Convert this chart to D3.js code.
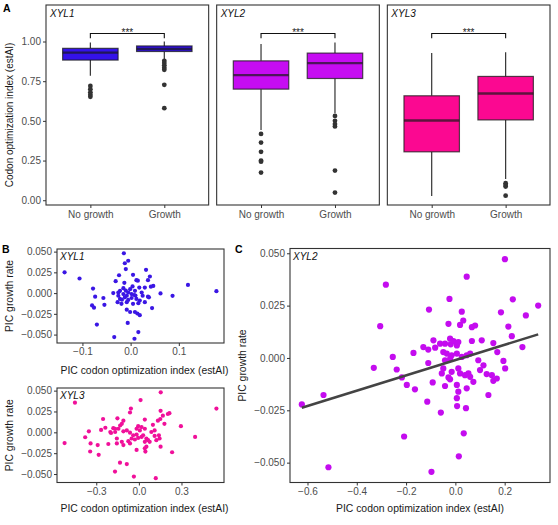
<!DOCTYPE html>
<html>
<head>
<meta charset="utf-8">
<script src="https://cdn.jsdelivr.net/npm/d3@7"></script>
<style>
  body { margin: 0; background: #fff; }
  text { font-family: "Liberation Sans", Arial, sans-serif; }
</style>
</head>
<body>
<div id="container"></div>
<script>
// ---- data ----
let groups = ["No growth", "Growth"];
let genes = ["XYL1", "XYL2", "XYL3"];
let geneColors = ["#3412ea", "#c60cf2", "#fb0891"];

// box summaries: lo whisker, q1, median, q3, hi whisker, outliers
let xyl1Box = [
  { lo: 0.785, q1: 0.883, med: 0.93, q3: 0.957, hi: 0.994, out: [0.72, 0.70, 0.68, 0.665, 0.652] },
  { lo: 0.889, q1: 0.937, med: 0.953, q3: 0.972, hi: 1.0, out: [0.878, 0.865, 0.85, 0.835, 0.822, 0.727, 0.58] }
];
let xyl2Box = [
  { lo: 0.443, q1: 0.70, med: 0.788, q3: 0.878, hi: 0.984, out: [0.418, 0.363, 0.305, 0.25, 0.243, 0.174] },
  { lo: 0.548, q1: 0.767, med: 0.864, q3: 0.927, hi: 0.994, out: [0.531, 0.5, 0.48, 0.465, 0.187, 0.048] }
];
let xyl3Box = [
  { lo: 0.027, q1: 0.305, med: 0.502, q3: 0.658, hi: 0.927, out: [] },
  { lo: 0.134, q1: 0.506, med: 0.672, q3: 0.78, hi: 0.933, out: [0.107, 0.096, 0.086, 0.029] }
];
let boxTicks = [0, 0.25, 0.5, 0.75, 1];

// phylogenetic independent contrasts [estAI, growth rate]
let xyl1Pic = [
  [-0.137, 0.025], [-0.106, 0.0176], [-0.078, 0.0055], [-0.080, -0.0148], [-0.076, -0.0176],
  [-0.070, -0.038], [-0.034, -0.053], [-0.014, 0.048], [-0.005, 0.039], [-0.012, 0.036],
  [-0.010, 0.029], [-0.024, 0.0215], [0.005, 0.022], [0.032, 0.028], [0.040, 0.020],
  [0.036, 0.0156], [0.012, 0.0156], [0.015, 0.015], [-0.031, 0.0144], [-0.013, 0.0124],
  [0.047, 0.0086], [0.042, 0.0077], [0.0295, 0.0066], [0.018, 0.0066], [0.009, 0.0027],
  [-0.001, 0.0047], [-0.015, 0.0059], [-0.022, 0.0027], [-0.036, 0.0], [-0.005, 0.0007],
  [0.023, 0.0007], [0.062, -0.0004], [0.087, -0.0033], [0.036, -0.0043], [-0.0255, -0.0032],
  [-0.022, -0.007], [-0.027, -0.011], [-0.019, -0.0129], [-0.012, -0.0051], [-0.005, -0.0082],
  [0.002, -0.0059], [0.012, -0.007], [0.019, -0.009], [0.016, -0.0122], [0.005, -0.0129],
  [-0.008, -0.011], [0.025, -0.0032], [0.0295, -0.011], [0.038, -0.0051], [0.0445, -0.018],
  [-0.0565, -0.0059], [-0.0544, -0.0141], [-0.0736, -0.0043], [-0.008, -0.02], [-0.001, -0.0228],
  [0.009, -0.0228], [0.014, -0.0246], [0.019, -0.0266], [-0.0255, 0.0007], [-0.015, -0.0012],
  [-0.008, -0.0032], [0.002, -0.0012], [0.0074, -0.0023], [0.119, 0.0098], [0.178, 0.0023],
  [-0.006, -0.036], [0.016, -0.047], [0.008, -0.055], [-0.010, 0.003], [0.004, 0.008],
  [-0.018, -0.008], [0.010, -0.003]
];
let xyl3Pic = [
  [-0.523, -0.0129], [-0.45, 0.0355], [-0.378, -0.0059], [-0.352, 0.0012], [-0.34, -0.0133],
  [-0.343, -0.023], [-0.29, -0.0153], [-0.283, -0.027], [-0.266, 0.0029], [-0.252, 0.016],
  [-0.236, 0.0055], [-0.215, -0.014], [-0.196, -0.0008], [-0.201, 0.0004], [-0.180, 0.005],
  [-0.168, -0.047], [-0.167, 0.0043], [-0.167, 0.0004], [-0.151, 0.0168], [-0.144, 0.0043],
  [-0.132, 0.0082], [-0.12, 0.0102], [-0.109, 0.014], [-0.133, -0.0364], [-0.085, -0.038],
  [-0.109, 0.0012], [-0.085, 0.0023], [-0.0625, -0.0004], [-0.056, 0.0285], [-0.0625, 0.0238],
  [-0.035, -0.053], [0.012, 0.0387], [-0.040, -0.0035], [-0.016, -0.0027], [-0.051, -0.0074],
  [-0.028, -0.0086], [-0.005, -0.0067], [0.019, -0.0055], [0.030, -0.0035], [0.053, -0.0074],
  [0.042, -0.0114], [0.065, -0.0094], [0.053, -0.0172], [0.076, -0.0114], [0.111, -0.0043],
  [0.141, -0.0035], [0.123, -0.0094], [0.146, -0.0074], [0.153, -0.0172], [-0.155, -0.0074],
  [-0.155, -0.0133], [-0.12, -0.0114], [-0.109, -0.0153], [-0.074, -0.0106], [-0.0625, -0.0133],
  [-0.016, -0.0211], [0.042, -0.0192], [0.046, -0.0231], [0.234, -0.0239], [-0.005, 0.0074],
  [0.019, 0.0063], [0.042, 0.0043], [0.007, 0.0023], [-0.016, 0.0043], [0.099, 0.009],
  [0.111, 0.0023], [0.088, 0.0004], [0.042, 0.0153], [0.18, 0.0102], [0.296, 0.0074],
  [0.396, -0.0055], [0.153, 0.0258], [0.215, 0.023], [0.204, 0.022], [0.169, 0.020],
  [0.151, 0.016], [0.134, 0.014], [0.154, 0.048], [0.119, -0.055], [0.546, 0.0285]
];
let xyl2Pic = [
  [-0.623, -0.0222], [-0.535, -0.0177], [-0.515, -0.0522], [-0.282, 0.035], [-0.305, 0.0152],
  [-0.331, -0.0047], [-0.254, 0.0005], [-0.238, -0.0055], [-0.217, -0.0093], [-0.208, -0.0375],
  [-0.197, -0.0129], [-0.17, 0.0024], [-0.164, -0.015], [-0.13, 0.0052], [-0.11, 0.004],
  [-0.11, -0.0024], [-0.114, -0.0209], [-0.107, 0.0231], [-0.097, -0.0544], [-0.092, -0.0117],
  [-0.089, 0.0084], [-0.082, 0.0049], [-0.062, 0.0068], [-0.059, -0.0261], [-0.055, -0.0074],
  [-0.049, 0.0028], [-0.049, -0.005], [-0.042, 0.0068], [-0.042, -0.0011], [-0.042, -0.0134],
  [-0.035, 0.0021], [-0.028, 0.0163], [-0.028, -0.0093], [-0.024, 0.0282], [-0.0215, 0.0092],
  [-0.0215, -0.0102], [-0.021, -0.0003], [-0.019, 0.0065], [-0.015, 0.0013], [-0.015, -0.0066],
  [-0.008, 0.0081], [0.006, 0.006], [0.006, 0.0021], [0.006, -0.0129], [0.012, 0.0076],
  [0.012, -0.005], [0.012, -0.0161], [0.006, -0.0192], [0.007, -0.023], [0.014, -0.047],
  [0.019, 0.0158], [0.019, -0.0074], [0.026, 0.0221], [0.026, 0.0005], [0.032, 0.0179],
  [0.034, -0.036], [0.039, -0.0082], [0.043, -0.024], [0.046, 0.0388], [0.046, 0.0013],
  [0.046, -0.0145], [0.053, -0.0074], [0.06, 0.0021], [0.06, -0.009], [0.067, 0.0147],
  [0.067, 0.0081], [0.073, -0.0114], [0.08, 0.0155], [0.093, -0.0011], [0.1, -0.0058],
  [0.107, 0.0084], [0.114, -0.0035], [0.127, -0.0077], [0.134, -0.0177], [0.148, -0.0082],
  [0.154, 0.0071], [0.154, -0.0109], [0.168, -0.0098], [0.17, 0.0028], [0.185, 0.0218],
  [0.195, -0.0014], [0.201, 0.0472], [0.202, -0.005], [0.215, 0.015], [0.229, 0.0104],
  [0.233, 0.028], [0.272, 0.0052], [0.286, 0.0203], [0.336, 0.025]
];
// lm fit in panel C: intercept, slope
let xyl2Fit = [-0.0010, 0.0365];
let picYTicks = [-0.05, -0.025, 0, 0.025, 0.05];

// ---- drawing ----
let ink = "#333333";
let tickInk = "#4d4d4d";
let fontFam = "Liberation Sans, Arial, sans-serif";

let svg = d3.select("#container").append("svg").attr("width", 558).attr("height", 525);
svg.append("rect").attr("width", 558).attr("height", 525).attr("fill", "#fff");

let styleAxis = (g) => {
  g.attr("font-family", fontFam);
  g.select(".domain").remove();
  g.selectAll(".tick line").attr("stroke", ink).attr("stroke-width", 1);
  g.selectAll(".tick text").attr("fill", tickInk).style("font-size", "10px");
};

let frame = (x0, y0, x1, y1) => {
  svg.append("rect")
    .attr("x", x0).attr("y", y0)
    .attr("width", x1 - x0).attr("height", y1 - y0)
    .attr("fill", "none").attr("stroke", ink).attr("stroke-width", 1.1);
};

let title = (txt, x, y, rot, opts = {}) => {
  svg.append("text")
    .attr("transform", `translate(${x},${y}) rotate(${rot})`)
    .attr("text-anchor", opts.anchor || "middle")
    .attr("fill", opts.fill || "#1a1a1a")
    .style("font-size", (opts.size || 10) + "px")
    .style("font-style", opts.italic ? "italic" : "normal")
    .style("font-weight", opts.bold ? "bold" : "normal")
    .text(txt);
};

// Panel A: three boxplot facets
let aLeft = 46, aRight = 550, aGap = 8, aTop = 5, aBottom = 205;
let facetW = (aRight - aLeft - 2 * aGap) / 3;
let yA = d3.scaleLinear().domain([-0.03, 1.23]).range([aBottom, aTop]);
let boxSets = [xyl1Box, xyl2Box, xyl3Box];

boxSets.forEach((boxes, i) => {
  let x0 = aLeft + i * (facetW + aGap);
  let x1 = x0 + facetW;
  let x = d3.scalePoint().domain(groups).range([x0, x1]).padding(0.6);
  let bw = x.step() * 0.75;
  let g = svg.append("g");

  boxes.forEach((b, j) => {
    let cx = x(groups[j]);
    g.append("line").attr("x1", cx).attr("x2", cx).attr("y1", yA(b.hi)).attr("y2", yA(b.q3))
      .attr("stroke", ink).attr("stroke-width", 1.2);
    g.append("line").attr("x1", cx).attr("x2", cx).attr("y1", yA(b.q1)).attr("y2", yA(b.lo))
      .attr("stroke", ink).attr("stroke-width", 1.2);
    g.append("rect")
      .attr("x", cx - bw / 2).attr("width", bw)
      .attr("y", yA(b.q3)).attr("height", yA(b.q1) - yA(b.q3))
      .attr("fill", geneColors[i])
      .attr("stroke", "#1a1a1a").attr("stroke-opacity", 0.75).attr("stroke-width", 1.2);
    g.append("line")
      .attr("x1", cx - bw / 2).attr("x2", cx + bw / 2)
      .attr("y1", yA(b.med)).attr("y2", yA(b.med))
      .attr("stroke", "#1a1a1a").attr("stroke-opacity", 0.7).attr("stroke-width", 2.4);
    g.selectAll(null).data(b.out).enter().append("circle")
      .attr("cx", cx).attr("cy", (d) => yA(d)).attr("r", 2.4)
      .attr("fill", ink);
  });

  // significance bracket
  let xa = x(groups[0]), xb = x(groups[1]);
  g.append("path")
    .attr("d", `M${xa},${yA(1.02)}V${yA(1.05)}H${xb}V${yA(1.02)}`)
    .attr("fill", "none").attr("stroke", "#111").attr("stroke-width", 1.1);
  g.append("text")
    .attr("x", (xa + xb) / 2).attr("y", yA(1.05) + 2)
    .attr("text-anchor", "middle").attr("fill", "#222")
    .style("font-size", "10px").text("***");

  frame(x0, aTop, x1, aBottom);

  let xAxis = svg.append("g").attr("transform", `translate(0,${aBottom})`)
    .call(d3.axisBottom(x).tickSize(3).tickPadding(3));
  styleAxis(xAxis);

  title(genes[i], x0 + 4, aTop + 12, 0, { anchor: "start", italic: true, size: 10, fill: "#111" });

  if (i === 0) {
    let yAxis = svg.append("g").attr("transform", `translate(${x0},0)`)
      .call(d3.axisLeft(yA).tickValues(boxTicks).tickFormat(d3.format(".2f")).tickSize(3).tickPadding(2));
    styleAxis(yAxis);
  }
});
title("Codon optimization index (estAI)", 13, 115, -90);
title("A", 3, 12, 0, { anchor: "start", bold: true, size: 10.5, fill: "#000" });

// PIC scatter panels
let expand = (vals) => {
  let [a, b] = d3.extent(vals);
  let p = (b - a) * 0.05;
  return [a - p, b + p];
};

let scatter = (data, color, r, box, xTicks, gene, fit) => {
  let x = d3.scaleLinear().domain(expand(data.map((d) => d[0]))).range([box.x0, box.x1]);
  let y = d3.scaleLinear().domain(expand(data.map((d) => d[1]))).range([box.y1, box.y0]);
  let g = svg.append("g");
  g.selectAll("circle").data(data).enter().append("circle")
    .attr("cx", (d) => x(d[0])).attr("cy", (d) => y(d[1])).attr("r", r)
    .attr("fill", color);
  if (fit) {
    let xs = d3.extent(data, (d) => d[0]);
    g.append("line")
      .attr("x1", x(xs[0])).attr("y1", y(fit[0] + fit[1] * xs[0]))
      .attr("x2", x(xs[1])).attr("y2", y(fit[0] + fit[1] * xs[1]))
      .attr("stroke", "#444").attr("stroke-width", 2.6);
  }
  frame(box.x0, box.y0, box.x1, box.y1);
  let xAxis = svg.append("g").attr("transform", `translate(0,${box.y1})`)
    .call(d3.axisBottom(x).tickValues(xTicks).tickFormat(d3.format(".1f")).tickSize(3).tickPadding(2));
  styleAxis(xAxis);
  let yAxis = svg.append("g").attr("transform", `translate(${box.x0},0)`)
    .call(d3.axisLeft(y).tickValues(picYTicks).tickFormat(d3.format(".3f")).tickSize(3).tickPadding(2));
  styleAxis(yAxis);
  title(gene, box.x0 + 3, box.y0 + 11, 0, { anchor: "start", italic: true, size: 10, fill: "#111" });
};

let bTop = { x0: 57, x1: 224, y0: 249, y1: 343 };
let bBot = { x0: 57, x1: 224, y0: 388, y1: 482.5 };
let cBox = { x0: 290, x1: 550, y0: 248.5, y1: 482.5 };

scatter(xyl1Pic, "#3a16e4", 2.1, bTop, [-0.1, 0, 0.1], "XYL1");
scatter(xyl3Pic, "#f0109a", 2.1, bBot, [-0.3, 0, 0.3], "XYL3");
scatter(xyl2Pic, "#c40cef", 3.1, cBox, [-0.6, -0.4, -0.2, 0, 0.2], "XYL2", xyl2Fit);

let picX = "PIC codon optimization index (estAI)";
title(picX, (bTop.x0 + bTop.x1) / 2 + 4, 374, 0, { size: 10.4 });
title(picX, (bBot.x0 + bBot.x1) / 2 + 4, 512, 0, { size: 10.4 });
title(picX, (cBox.x0 + cBox.x1) / 2, 512, 0, { size: 10.4 });
title("PIC growth rate", 13, (bTop.y0 + bTop.y1) / 2, -90, { size: 10.4 });
title("PIC growth rate", 13, (bBot.y0 + bBot.y1) / 2, -90, { size: 10.4 });
title("PIC growth rate", 246, (cBox.y0 + cBox.y1) / 2, -90, { size: 10.4 });
title("B", 2, 253, 0, { anchor: "start", bold: true, size: 10.5, fill: "#000" });
title("C", 235, 253, 0, { anchor: "start", bold: true, size: 10.5, fill: "#000" });
</script>
</body>
</html>
